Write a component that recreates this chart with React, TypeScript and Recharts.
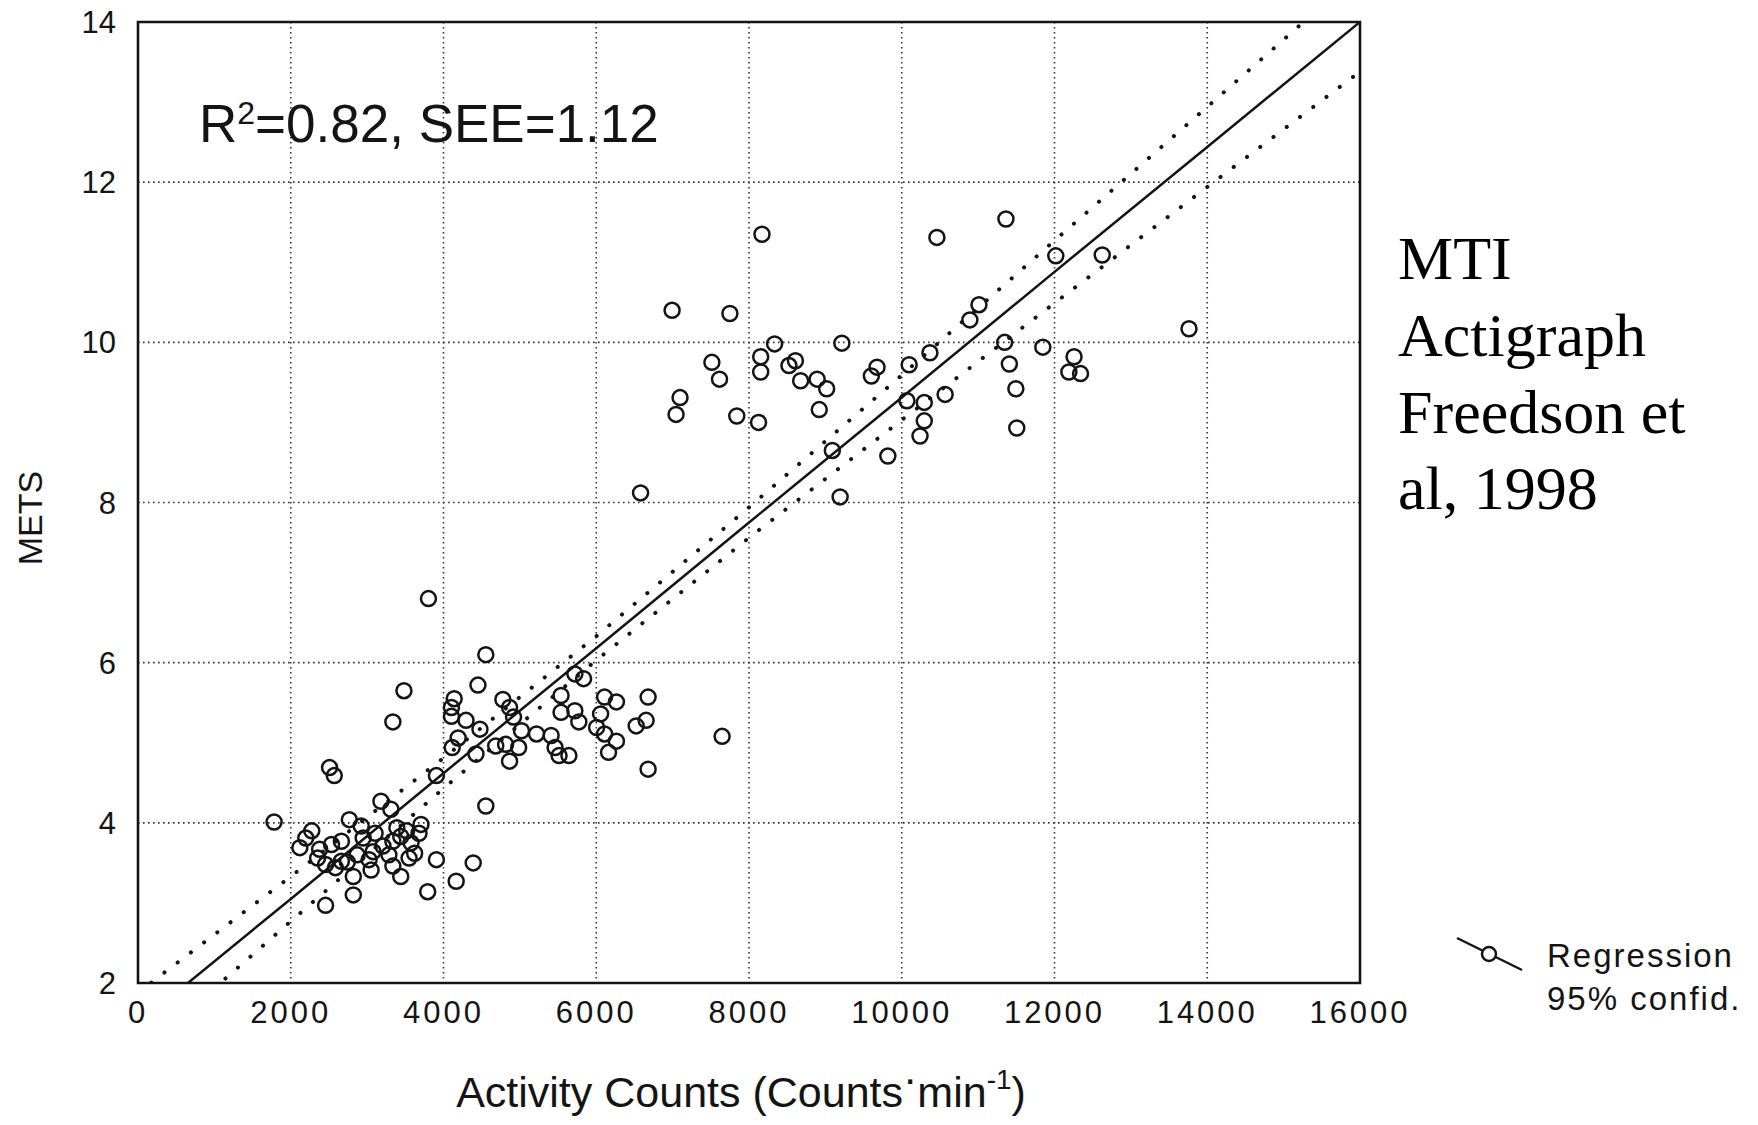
import {
  CartesianGrid,
  ReferenceArea,
  Scatter,
  ScatterChart,
  XAxis,
  YAxis,
} from "recharts";

const W = 1758;
const H = 1125;

const X_TICKS = [0, 2000, 4000, 6000, 8000, 10000, 12000, 14000, 16000];
const Y_TICKS = [2, 4, 6, 8, 10, 12, 14];

// Fit line and 95% band, read at each x grid line
const FIT_COUNTS = [0, 2000, 4000, 6000, 8000, 10000, 12000, 14000, 16000];
const FIT_METS = [1.49, 3.05, 4.62, 6.18, 7.75, 9.31, 10.88, 12.44, 14.0];
const BAND_UPPER = [1.88, 3.33, 4.81, 6.33, 7.94, 9.59, 11.27, 12.94, 14.62];
const BAND_LOWER = [1.1, 2.77, 4.43, 6.03, 7.56, 9.03, 10.49, 11.94, 13.38];

// Walking trials (low counts)
const LOW_COUNTS = [
  1782, 2119, 2197, 2275, 2352, 2378, 2456, 2456, 2508, 2534, 2570, 2585, 2663,
  2663, 2741, 2767, 2819, 2819, 2870, 2922, 2948, 3026, 3052, 3078, 3104, 3181,
  3207, 3285, 3311, 3337, 3337, 3337, 3389, 3440, 3440, 3482, 3518, 3549, 3575,
  3622, 3679, 3705, 3793, 3803, 3907, 3907, 4104, 4104, 4114, 4140, 4166, 4192,
  4295, 4389, 4425, 4451, 4477, 4554, 4554, 4684, 4777, 4813, 4865, 4865, 4917,
  4984, 5021, 5218, 5409, 5461, 5513, 5539, 5539, 5642, 5720, 5720, 5772, 5834,
  6005, 6057, 6109, 6109, 6161, 6264, 6264, 6523, 6653, 6679, 6679, 7648,
];
const LOW_METS = [
  4.01, 3.69, 3.81, 3.9, 3.56, 3.67, 3.48, 2.97, 4.69, 3.73, 4.59, 3.44, 3.77,
  3.52, 3.51, 4.04, 3.33, 3.1, 3.6, 3.96, 3.81, 3.54, 3.41, 3.64, 3.87, 4.27,
  3.71, 3.6, 4.17, 3.46, 3.77, 5.26, 3.94, 3.83, 3.33, 5.65, 3.9, 3.56, 3.75,
  3.62, 3.87, 3.98, 3.14, 6.8, 4.59, 3.54, 5.44, 5.33, 4.94, 5.55, 3.27, 5.06,
  5.28, 3.5, 4.86, 5.72, 5.17, 6.1, 4.21, 4.96, 5.54, 4.98, 5.44, 4.77, 5.32,
  4.94, 5.15, 5.11, 5.09, 4.94, 4.84, 5.59, 5.38, 4.84, 5.4, 5.86, 5.26, 5.8,
  5.19, 5.36, 5.57, 5.11, 4.88, 5.51, 5.02, 5.21, 5.28, 5.57, 4.67, 5.08,
];

// Running trials (high counts)
const HIGH_COUNTS = [
  6580, 6993, 7045, 7097, 7514, 7614, 7750, 7840, 8125, 8153, 8153, 8170, 8335,
  8523, 8608, 8676, 8892, 8920, 9017, 9091, 9193, 9216, 9602, 9676, 9818, 10068,
  10097, 10239, 10295, 10295, 10369, 10460, 10568, 10892, 11011, 11347, 11364,
  11409, 11494, 11506, 11847, 12017, 12188, 12256, 12341, 12625, 13761,
];
const HIGH_METS = [
  8.12, 10.4, 9.1, 9.31, 9.75, 9.54, 10.36, 9.08, 9.0, 9.82, 9.63, 11.35, 9.98,
  9.71, 9.77, 9.52, 9.54, 9.16, 9.42, 8.65, 8.07, 9.99, 9.58, 9.69, 8.58, 9.27,
  9.72, 8.83, 9.25, 9.02, 9.87, 11.31, 9.35, 10.28, 10.47, 10.0, 11.54, 9.73,
  9.42, 8.93, 9.94, 11.08, 9.63, 9.82, 9.61, 11.09, 10.17,
];

const zip = (xs: number[], ys: number[]) => xs.map((x, i) => ({ x, y: ys[i] }));

const points = [...zip(LOW_COUNTS, LOW_METS), ...zip(HIGH_COUNTS, HIGH_METS)];
const fit = zip(FIT_COUNTS, FIT_METS);
const upper = zip(FIT_COUNTS, BAND_UPPER);
const lower = zip(FIT_COUNTS, BAND_LOWER);

const SANS = "'Liberation Sans', Arial, sans-serif";
const SERIF = "'Liberation Serif', 'Times New Roman', serif";
const INK = "#141414";

const Ring = (p: any) => (
  <circle cx={p.cx} cy={p.cy} r={7.5} fill="none" stroke={INK} strokeWidth={2.5} />
);
const NoMark = () => <g />;

const XTick = (p: any) => (
  <text
    x={p.x}
    y={p.y + 40}
    textAnchor="middle"
    fontFamily={SANS}
    fontSize={31}
    letterSpacing={3}
    fill={INK}
  >
    {p.payload.value}
  </text>
);

const YTick = (p: any) => (
  <text
    x={p.x - 22}
    y={p.y + 11}
    textAnchor="end"
    fontFamily={SANS}
    fontSize={31}
    fill={INK}
  >
    {p.payload.value}
  </text>
);

const dotted = {
  stroke: INK,
  strokeWidth: 4,
  strokeDasharray: "0.1 16.5",
  strokeLinecap: "round",
};

export default function App() {
  return (
    <div
      style={{
        position: "absolute",
        left: 0,
        top: 0,
        width: W,
        height: H,
        background: "#fff",
      }}
    >
      <ScatterChart
        width={W}
        height={H}
        margin={{ top: 22, right: 398, bottom: 82, left: 0 }}
      >
        <CartesianGrid stroke="#333" strokeWidth={1.6} strokeDasharray="1.6 3.4" />
        <XAxis
          type="number"
          dataKey="x"
          domain={[0, 16000]}
          ticks={X_TICKS}
          interval={0}
          allowDataOverflow
          axisLine={false}
          tickLine={false}
          tickSize={0}
          tickMargin={0}
          height={60}
          tick={(p: any) => <XTick {...p} />}
        />
        <YAxis
          type="number"
          dataKey="y"
          domain={[2, 14]}
          ticks={Y_TICKS}
          interval={0}
          allowDataOverflow
          axisLine={false}
          tickLine={false}
          tickSize={0}
          tickMargin={0}
          width={138}
          tick={(p: any) => <YTick {...p} />}
        />
        <ReferenceArea
          x1={0}
          x2={16000}
          y1={2}
          y2={14}
          fill="none"
          stroke={INK}
          strokeWidth={2.6}
          ifOverflow="visible"
        />
        <Scatter
          data={upper}
          shape={NoMark}
          line={dotted}
          isAnimationActive={false}
        />
        <Scatter
          data={lower}
          shape={NoMark}
          line={dotted}
          isAnimationActive={false}
        />
        <Scatter
          data={fit}
          shape={NoMark}
          line={{ stroke: INK, strokeWidth: 2.5 }}
          isAnimationActive={false}
        />
        <Scatter data={points} shape={Ring} isAnimationActive={false} />
      </ScatterChart>

      <svg
        width={W}
        height={H}
        style={{ position: "absolute", left: 0, top: 0, pointerEvents: "none" }}
      >
        <text x={199} y={142} fontFamily={SANS} fontSize={53} fill={INK}>
          R
          <tspan dy={-18} fontSize={32}>
            2
          </tspan>
          <tspan dy={18}>=0.82, SEE=1.12</tspan>
        </text>

        <text
          transform="translate(42,518) rotate(-90)"
          textAnchor="middle"
          fontFamily={SANS}
          fontSize={34}
          fill={INK}
        >
          METS
        </text>

        <text
          x={741}
          y={1107}
          textAnchor="middle"
          fontFamily={SANS}
          fontSize={43}
          fill={INK}
        >
          Activity Counts (Counts
          <tspan dy={-14}>·</tspan>
          <tspan dy={14}>min</tspan>
          <tspan dy={-18} fontSize={28}>
            -1
          </tspan>
          <tspan dy={18}>)</tspan>
        </text>

        <g fontFamily={SERIF} fontSize={62} fill="#000">
          <text x={1398} y={279}>MTI</text>
          <text x={1398} y={356}>Actigraph</text>
          <text x={1398} y={433}>Freedson et</text>
          <text x={1398} y={509}>al, 1998</text>
        </g>

        <line x1={1457} y1={938} x2={1522} y2={970} stroke={INK} strokeWidth={2.5} />
        <circle cx={1489} cy={954} r={7} fill="#fff" stroke={INK} strokeWidth={2.5} />
        <g fontFamily={SANS} fontSize={33} letterSpacing={2} fill={INK}>
          <text x={1547} y={967}>Regression</text>
          <text x={1547} y={1010}>95% confid.</text>
        </g>
      </svg>
    </div>
  );
}
